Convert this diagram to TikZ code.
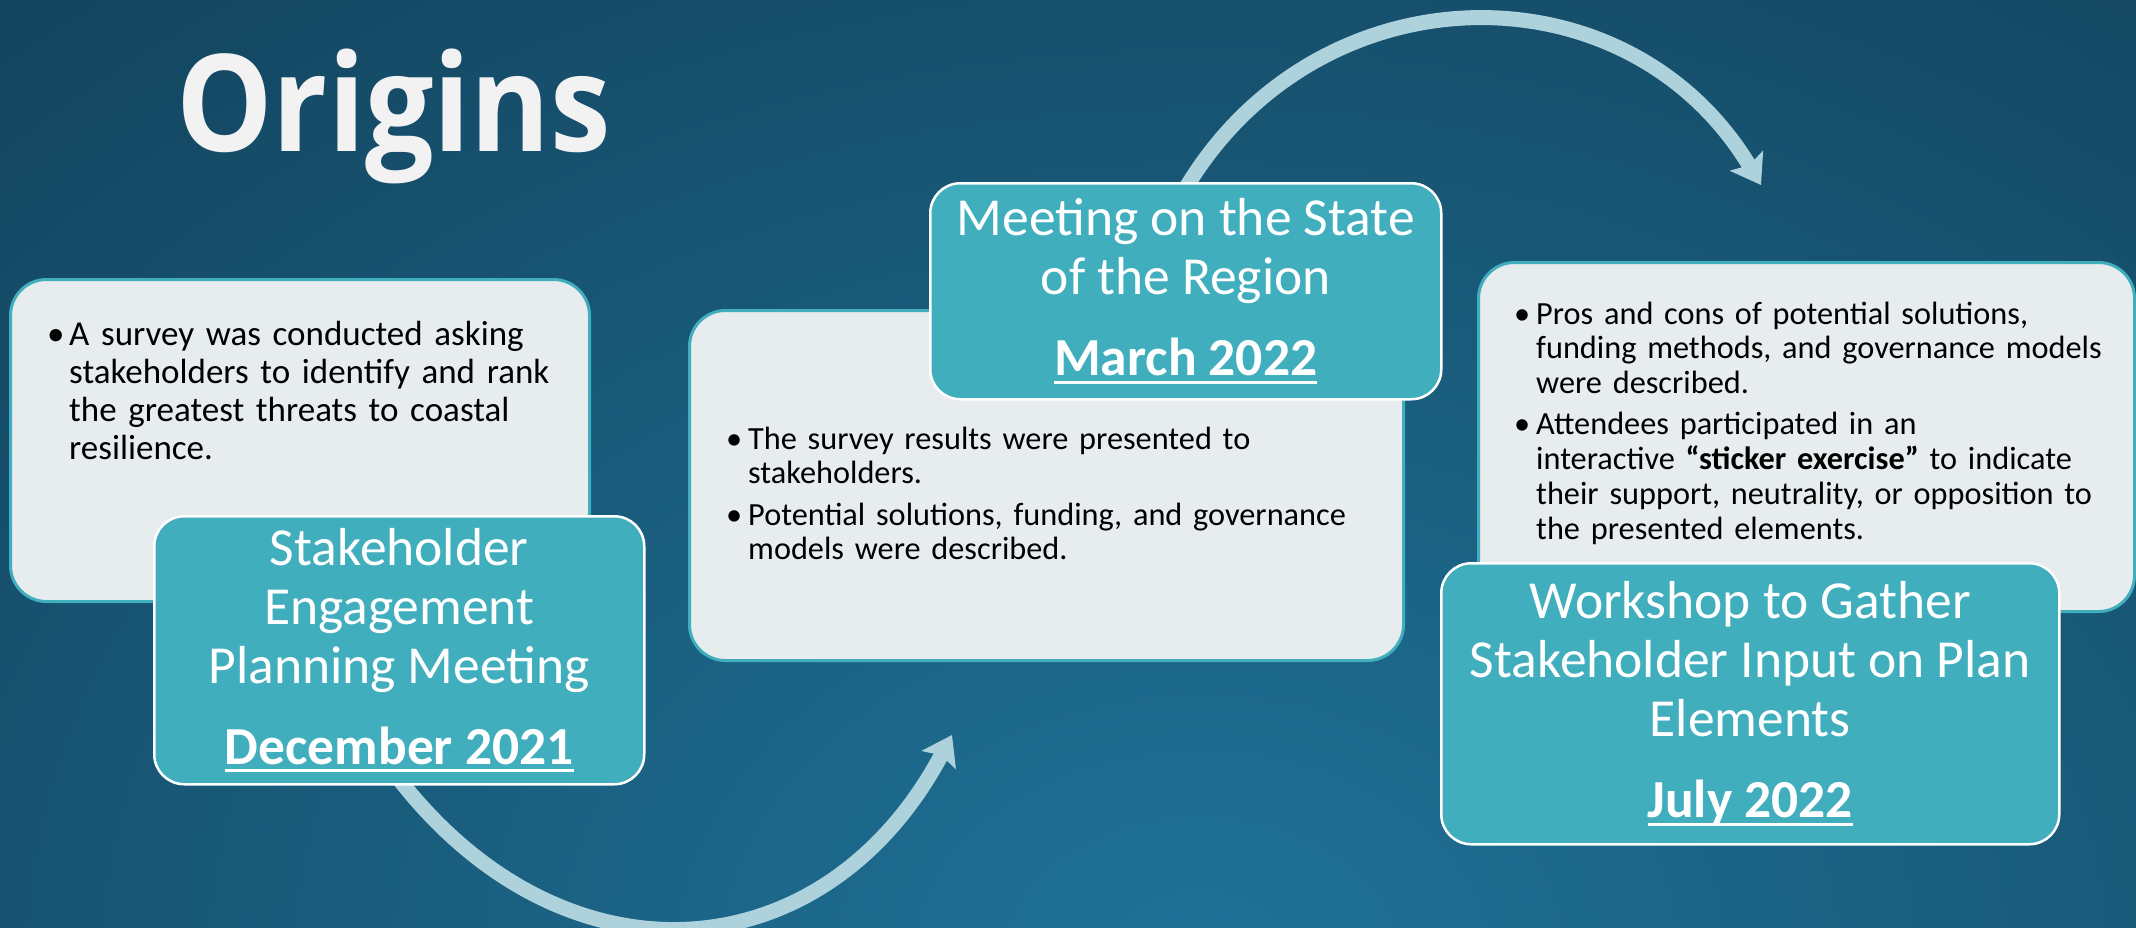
\documentclass[tikz,border=0pt]{standalone}
\usepackage{fontspec}
\setmainfont{Carlito}
\newfontfamily\titlefont{Open Sans}[FakeStretch=0.9]
\usetikzlibrary{positioning,arrows.meta}

\definecolor{bgdark}{RGB}{16,57,80}
\definecolor{bglight}{RGB}{31,114,152}
\definecolor{tealfill}{RGB}{65,174,190}
\definecolor{palefill}{RGB}{231,236,238}
\definecolor{flowblue}{RGB}{174,210,220}

% underlined date, bold
\newcommand{\dateul}[1]{\setbox0=\hbox{\bfseries #1}\leavevmode\rlap{\rule[-8pt]{\wd0}{3pt}}\box0}
% bullet list of the notes
\newenvironment{notelist}[1]{\begin{list}{\textbullet}{\leftmargin=18pt \labelwidth=18pt \labelsep=0pt
  \itemsep=#1 \parsep=0pt \topsep=0pt \partopsep=0pt \itemindent=0pt
  \renewcommand{\makelabel}[1]{\kern-4pt##1\hfil}}\raggedright}{\end{list}}

\pgfdeclarelayer{backlayer}
\pgfdeclarelayer{arrowlayer}
\pgfsetlayers{backlayer,arrowlayer,main}

\tikzset{
  notebox/.style={draw=tealfill, line width=3pt, fill=palefill, rounded corners=36pt, inner sep=0pt, anchor=north west},
  datebox/.style={draw=white, line width=2.5pt, fill=tealfill, rounded corners=30pt, inner sep=0pt, anchor=north west,
    text=white, align=center, font=\fontsize{53.5}{59}\selectfont},
  notetext/.style={inner sep=0pt, text width=#1, font=\fontsize{32.3}{34.8}\selectfont},
  flow/.style={draw=flowblue, line width=15pt, -{Stealth[length=28pt,width=38pt,inset=5pt]}}
}

\begin{document}
\begin{tikzpicture}[x=1pt,y=1pt]

\useasboundingbox (0,0) rectangle (2136,-927);

% Background
\begin{pgfonlayer}{backlayer}
\fill[bgdark] (0,0) rectangle (2136,-927);
\begin{scope}
  \clip (0,0) rectangle (2136,-927);
  \shade[inner color=bglight, outer color=bgdark] (1200,-960) ellipse (2200 and 1600);
\end{scope}
\end{pgfonlayer}

% Title
\node[inner sep=0pt, anchor=base west, text=white!95!black,
  font=\titlefont\bfseries\fontsize{135}{135}\selectfont] (title) at (176,-151) {Origins};

% Notes
\node[notebox, minimum width=579pt, minimum height=322pt] (sb1) at (9,-278) {};
\node[notetext=530pt, font=\fontsize{35}{38}\selectfont, below right=29pt and 42pt of sb1.north west] (sb1txt) {%
  \begin{notelist}{0pt}
  \item A survey was conducted asking\\stakeholders to identify and rank\\the greatest threats to coastal\\resilience.
  \end{notelist}};

\node[notebox, minimum width=714pt, minimum height=350pt] (sb2) at (688,-309) {};
\node[notetext=650pt, below right=105pt and 42pt of sb2.north west] (sb2txt) {%
  \begin{notelist}{6.5pt}
  \item The survey results were presented to\\stakeholders.
  \item Potential solutions, funding, and governance\\models were described.
  \end{notelist}};

\node[notebox, minimum width=656pt, minimum height=349pt] (sb3) at (1477,-261) {};
\node[notetext=600pt, below right=28pt and 41pt of sb3.north west] (sb3txt) {%
  \begin{notelist}{6.5pt}
  \item Pros and cons of potential solutions,\\funding methods, and governance models\\were described.
  \item Attendees participated in an\\interactive \textbf{“sticker exercise”} to indicate\\their support, neutrality, or opposition to\\the presented elements.
  \end{notelist}};

% Events
\node[datebox, minimum width=490pt, minimum height=268pt] (t1) at (153,-515)
  {Stakeholder\\Engagement\\Planning Meeting\\[22pt]\dateul{December 2021}};
\node[datebox, minimum width=511pt, minimum height=216pt] (t2) at (929,-182)
  {Meeting on the State\\of the Region\\[22pt]\dateul{March 2022}};
\node[datebox, minimum width=618pt, minimum height=281pt] (t3) at (1440,-562)
  {Workshop to Gather\\Stakeholder Input on Plan\\Elements\\[22pt]\dateul{July 2022}};

% Arrows
\coordinate (tipA) at (1761,-185);
\coordinate (tipB) at (952,-735);
\begin{pgfonlayer}{arrowlayer}
\draw[flow] ([yshift=6pt]t1.south) to[out=-52, in=-118, looseness=1.25] (tipB);
\draw[flow] ([yshift=-6pt]t2.north) to[out=59, in=121, looseness=1.15] (tipA);
\end{pgfonlayer}

\end{tikzpicture}
\end{document}
